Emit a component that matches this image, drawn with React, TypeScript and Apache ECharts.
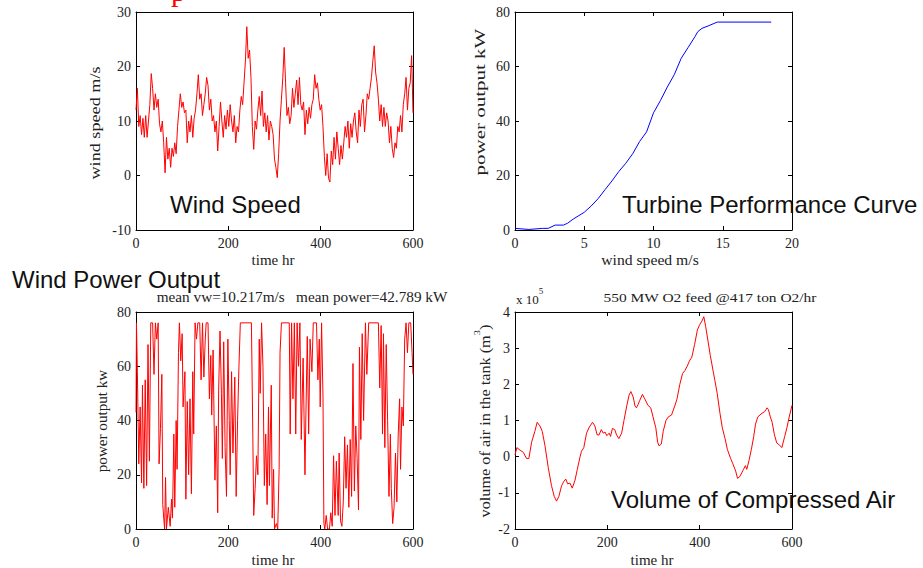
import React, { useEffect, useRef } from "react";
import * as echarts from "echarts";

// ---------- DATA ----------
const WIND_STEP_HR = 3; // wind speed sampled every 3 hours (t = 0..600)
const windSpeed: number[] = [
  12, 16, 9, 11, 7.5, 10.5, 7, 11, 7, 10, 13, 18.7, 16, 12, 15, 12.5, 14, 9.5, 8, 10,
  6, 0.5, 7, 3, 5, 1.5, 5, 3.5, 6, 4, 9, 12, 15, 12.5, 13.5, 11.5, 12, 6, 10, 8,
  11, 7, 10.5, 12, 15, 18.5, 14, 15, 11, 13, 15, 18, 16.5, 12, 14, 10, 11, 8, 10, 4.5,
  9, 13.5, 10, 7, 11, 8.5, 12, 9, 13, 10, 8, 11, 6, 9, 8, 12, 14.5, 13, 17, 21,
  27.3, 21.5, 23, 18, 9, 4.8, 10, 8.5, 12, 14.5, 11, 15.5, 9, 11.5, 8, 11, 6.5, 10, 9, 7.5,
  3, 1.5, -0.4, 4, 10, 14, 18, 23.5, 17, 11, 12.5, 9.5, 11, 16, 12.5, 15, 17.5, 13, 18, 13,
  12, 13.5, 7.5, 12, 9.5, 12.5, 10.5, 13, 14, 18.5, 16, 17, 14, 12, 13, 9, 3.5, 0, 4, -0.5,
  -1.2, 4.5, 2, 7, 3, 8, 5, 2, 5.5, 3, 6, 9, 7, 10, 5, 9.5, 7, 10, 11.5, 8,
  6, 12, 9, 13, 14, 8, 11, 15, 14, 16, 18, 21, 23.8, 19, 17, 14, 10, 13, 9, 12.5,
  9, 11.5, 10, 6, 9, 5, 3.3, 6, 5, 9, 8, 11, 8, 13, 15, 18, 12, 16, 17, 22,
  11.5,
];

const turbineSpeed: number[] = [0, 1, 2, 2.4, 2.9, 3.5, 3.8, 4.2, 5, 5.5, 6, 6.5, 7, 7.5, 8, 8.5, 9, 9.5, 10, 10.5, 11, 11.5, 12, 12.5, 13, 13.2, 13.5, 14, 14.6, 18.5];
const turbinePower: number[] = [0.6, 0.2, 0.6, 0.6, 1.8, 1.8, 2.5, 4.0, 6.5, 8.8, 11.5, 14.8, 18.0, 21.5, 24.5, 28, 32.5, 36, 43, 47.5, 52.5, 57, 63, 67, 71, 72.8, 74, 75, 76.3, 76.3];

const powerHours: number[] = [
  0, 1, 3, 6, 9, 12, 14, 17, 20, 23, 26, 29, 32, 36, 39, 42, 45, 48, 50, 53, 56, 58, 61, 62, 64, 66, 70, 74, 77, 79,
  82, 84, 87, 89, 92, 94, 97, 100, 102, 106, 108, 111, 114, 117, 120, 123, 125, 128, 131, 134, 138, 141, 144, 147, 150, 152, 156, 159, 162, 164,
  167, 171, 174, 177, 179, 182, 185, 187, 190, 193, 196, 199, 202, 204, 207, 210, 214, 217, 220, 223, 226, 250, 253, 255, 258, 261, 264, 267, 269, 272,
  275, 278, 281, 284, 287, 289, 293, 295, 298, 300, 304, 307, 310, 312, 315, 332, 334, 337, 340, 343, 346, 349, 352, 355, 358, 362, 366, 368, 371, 374,
  377, 381, 384, 391, 394, 397, 399, 402, 405, 407, 409, 412, 415, 419, 422, 425, 428, 431, 434, 438, 440, 443, 446, 449, 452, 455, 458, 461, 464, 467,
  470, 473, 476, 479, 482, 484, 487, 490, 493, 497, 500, 504, 525, 528, 531, 534, 536, 539, 542, 545, 548, 551, 553, 556, 559, 562, 565, 568, 571, 573,
  576, 579, 582, 585, 588, 591, 595, 598, 600,
];
const powerKW: number[] = [
  43, 76, 58, 24, 45, 17, 53, 15, 55, 16, 68, 25, 76, 76, 57, 76, 70, 76, 24, 37, 57, 9, 2, 0, 19, 0, 8, 1, 11, 4,
  35, 8, 40, 22, 65, 76, 62, 72, 45, 58, 11, 47, 20, 48, 13, 58, 35, 76, 70, 76, 76, 55, 76, 56, 70, 76, 76, 48, 64, 42,
  66, 18, 38, 6, 51, 73, 50, 26, 69, 30, 12, 70, 40, 20, 58, 28, 56, 12, 40, 60, 76, 76, 35, 5, 15, 27, 20, 70, 50, 76,
  60, 16, 35, 9, 45, 16, 53, 4, 22, 0, 2, 0, 22, 65, 76, 76, 35, 76, 48, 76, 35, 76, 60, 76, 33, 63, 20, 42, 71, 35,
  70, 58, 76, 76, 55, 70, 45, 76, 49, 2, 0, 5, 0, 0, 6, 1, 27, 5, 25, 5, 28, 3, 1, 10, 34, 15, 31, 8, 33, 12,
  61, 14, 38, 26, 7, 67, 33, 72, 40, 76, 57, 76, 76, 52, 75, 35, 72, 30, 68, 40, 12, 35, 15, 2, 8, 28, 10, 35, 48, 22,
  45, 38, 70, 76, 65, 76, 76, 65, 57,
];

const volumeHours: number[] = [
  0, 4, 11, 18, 25, 30, 36, 43, 48, 54, 59, 65, 72, 79, 85, 90, 95, 101, 106, 110, 114, 119, 124, 130, 135, 141, 144, 149, 155, 161,
  168, 173, 178, 182, 187, 191, 195, 199, 204, 207, 211, 216, 220, 225, 231, 236, 242, 247, 251, 256, 260, 263, 267, 270, 276, 281, 288, 294, 299, 305,
  309, 312, 317, 321, 327, 332, 339, 346, 351, 357, 363, 368, 373, 378, 383, 389, 395, 400, 405, 409, 413, 418, 423, 428, 433, 438, 444, 449, 455, 460,
  467, 472, 478, 482, 487, 491, 495, 499, 502, 507, 512, 517, 521, 526, 533, 541, 546, 549, 553, 557, 562, 567, 573, 578, 584, 589, 594, 600,
];
// volume of air in the tank, in units of 10^5 m^3
const volumeE5: number[] = [
  0.05, 0.25, 0.18, 0.12, -0.05, -0.05, 0.4, 0.7, 0.95, 0.85, 0.7, 0.3, -0.3, -0.8, -1.1, -1.23, -1.1, -0.8, -0.68, -0.62, -0.75, -0.73, -0.87, -0.65, -0.35, 0.0, 0.15, 0.25, 0.65, 0.82,
  0.95, 0.85, 0.6, 0.6, 0.75, 0.65, 0.68, 0.58, 0.65, 0.56, 0.78, 0.75, 0.6, 0.5, 0.65, 1.0, 1.4, 1.7, 1.8, 1.65, 1.4, 1.35, 1.45, 1.55, 1.72, 1.6, 1.42, 1.35, 1.1, 0.8,
  0.4, 0.3, 0.35, 0.7, 1.0, 1.1, 1.15, 1.4, 1.6, 2.0, 2.3, 2.38, 2.5, 2.65, 2.75, 3.1, 3.5, 3.65, 3.75, 3.87, 3.6, 3.2, 2.8, 2.45, 2.1, 1.75, 1.2, 0.8, 0.5, 0.2,
  -0.05, -0.2, -0.4, -0.6, -0.55, -0.45, -0.35, -0.25, -0.35, -0.1, 0.2, 0.55, 0.9, 1.1, 1.18, 1.25, 1.35, 1.3, 1.1, 0.95, 0.6, 0.38, 0.32, 0.25, 0.55, 0.8, 1.1, 1.42,
];

const windTicks = { min: -10, max: 30, step: 10 };
const timeTicks = { min: 0, max: 600, step: 200 };
const turbineXTicks = { min: 0, max: 20, step: 5 };
const turbineYTicks = { min: 0, max: 80, step: 20 };
const powerTicks = { min: 0, max: 80, step: 20 };
const volumeTicks = { min: -2, max: 4, step: 1 };

// ---------- STYLE ----------
const SERIF = "'Liberation Serif', 'DejaVu Serif', serif";
const SANS = "'Liberation Sans', Arial, sans-serif";
const RED = "#ff0000";
const BLUE = "#0000ff";

const grids = [
  { left: 136, top: 12, width: 277, height: 218 },
  { left: 515, top: 12, width: 277, height: 218 },
  { left: 136, top: 312, width: 277, height: 217 },
  { left: 515, top: 312, width: 277, height: 217 },
];

function makeAxes(gridIndex: number, xt: any, yt: any) {
  const line = { show: true, onZero: false, lineStyle: { color: "#000", width: 1 } };
  const tick = { show: true, inside: true, length: 4, lineStyle: { color: "#000", width: 1 } };
  const label = { fontFamily: SERIF, fontSize: 14, color: "#222" };
  const xs = [
    { type: "value", gridIndex, min: xt.min, max: xt.max, interval: xt.step, position: "bottom", axisLine: line, axisTick: tick, splitLine: { show: false }, axisLabel: { ...label, margin: 6 } },
    { type: "value", gridIndex, min: xt.min, max: xt.max, interval: xt.step, position: "top", axisLine: line, axisTick: tick, splitLine: { show: false }, axisLabel: { show: false } },
  ];
  const ys = [
    { type: "value", gridIndex, min: yt.min, max: yt.max, interval: yt.step, position: "left", axisLine: line, axisTick: tick, splitLine: { show: false }, axisLabel: { ...label, margin: 5 } },
    { type: "value", gridIndex, min: yt.min, max: yt.max, interval: yt.step, position: "right", axisLine: line, axisTick: tick, splitLine: { show: false }, axisLabel: { show: false } },
  ];
  return { xs, ys };
}

function vText(x: number, y: number, text: string, fontSize: number, stretch: number) {
  return {
    type: "text",
    x,
    y,
    rotation: Math.PI / 2,
    scaleX: stretch,
    style: { text, fontFamily: SERIF, fontSize, fill: "#222", align: "center", verticalAlign: "middle" },
    silent: true,
  };
}
function hText(x: number, y: number, text: string, fontSize: number, stretch = 1) {
  return {
    type: "text",
    x,
    y,
    scaleX: stretch,
    style: { text, fontFamily: SERIF, fontSize, fill: "#222", align: "center", verticalAlign: "middle" },
    silent: true,
  };
}
function bigText(x: number, y: number, text: string) {
  return {
    type: "text",
    x,
    y,
    z: 100,
    style: { text, fontFamily: SANS, fontSize: 24, fill: "#111", align: "left", verticalAlign: "middle" },
    silent: true,
  };
}

export default function App() {
  const ref = useRef<HTMLDivElement>(null);
  useEffect(() => {
    if (!ref.current) return;
    const chart = echarts.init(ref.current, undefined, { renderer: "svg" });

    const a0 = makeAxes(0, timeTicks, windTicks);
    const a1 = makeAxes(1, turbineXTicks, turbineYTicks);
    const a2 = makeAxes(2, timeTicks, powerTicks);
    const a3 = makeAxes(3, timeTicks, volumeTicks);
    const xAxis = [...a0.xs, ...a1.xs, ...a2.xs, ...a3.xs];
    const yAxis = [...a0.ys, ...a1.ys, ...a2.ys, ...a3.ys];

    const windData = windSpeed.map((v, i) => [i * WIND_STEP_HR, v]);
    const turbineData = turbineSpeed.map((s, i) => [s, turbinePower[i]]);
    const powerData = powerHours.map((h, i) => [h, powerKW[i]]);
    const volumeData = volumeHours.map((h, i) => [h, volumeE5[i]]);

    const lineSeries = (xi: number, yi: number, data: any, color: string) => ({
      type: "line",
      xAxisIndex: xi,
      yAxisIndex: yi,
      data,
      showSymbol: false,
      symbol: "none",
      lineStyle: { color, width: 1 },
      silent: true,
    });

    chart.setOption({
      animation: false,
      backgroundColor: "#fff",
      grid: grids.map((g) => ({ ...g, show: false, containLabel: false })),
      xAxis,
      yAxis,
      series: [
        lineSeries(0, 0, windData, RED),
        lineSeries(2, 2, turbineData, BLUE),
        lineSeries(4, 4, powerData, RED),
        lineSeries(6, 6, volumeData, RED),
      ],
      graphic: [
        // partial red letter cut off at the top edge
        { type: "text", x: 171, y: -10, silent: true, style: { text: "p", fontFamily: SERIF, fontSize: 30, fill: RED, align: "left", verticalAlign: "middle" } },
        // axis names
        vText(96, 123, "wind speed m/s", 14, 1.3),
        hText(273, 260, "time hr", 15),
        vText(480, 102, "power output kW", 14, 1.5),
        hText(650, 260, "wind speed m/s", 14, 1.12),
        vText(102, 421, "power output kw", 14, 1.08),
        hText(273, 560, "time hr", 15),
        hText(652, 560, "time hr", 15),
        {
          type: "text",
          x: 482,
          y: 421,
          rotation: Math.PI / 2,
          scaleX: 1.16,
          silent: true,
          style: {
            text: "{a|volume of air in the tank (m}{s|3}{a|)}",
            align: "center",
            verticalAlign: "middle",
            rich: {
              a: { fontFamily: SERIF, fontSize: 14, fill: "#222", lineHeight: 20, verticalAlign: "bottom" },
              s: { fontFamily: SERIF, fontSize: 9, fill: "#222", lineHeight: 10, verticalAlign: "top" },
            },
          },
        },
        // titles
        hText(302, 297, "mean vw=10.217m/s   mean power=42.789 kW", 14, 1.09),
        hText(710, 297, "550 MW O2 feed @417 ton O2/hr", 13, 1.19),
        {
          type: "text",
          x: 516,
          y: 296,
          silent: true,
          style: {
            text: "{a|x 10}{s|5}",
            align: "left",
            verticalAlign: "middle",
            rich: {
              a: { fontFamily: SERIF, fontSize: 13, fill: "#222", lineHeight: 20, verticalAlign: "bottom" },
              s: { fontFamily: SERIF, fontSize: 9, fill: "#222", lineHeight: 10, verticalAlign: "top" },
            },
          },
        },
        // big overlay labels
        bigText(170, 204, "Wind Speed"),
        bigText(622, 204, "Turbine Performance Curve"),
        bigText(12, 279, "Wind Power Output"),
        bigText(611, 499, "Volume of Compressed Air"),
      ],
    });
    return () => chart.dispose();
  }, []);
  return (
    <div
      ref={ref}
      style={{ position: "absolute", left: 0, top: 0, width: 923, height: 568, background: "#fff" }}
    />
  );
}
